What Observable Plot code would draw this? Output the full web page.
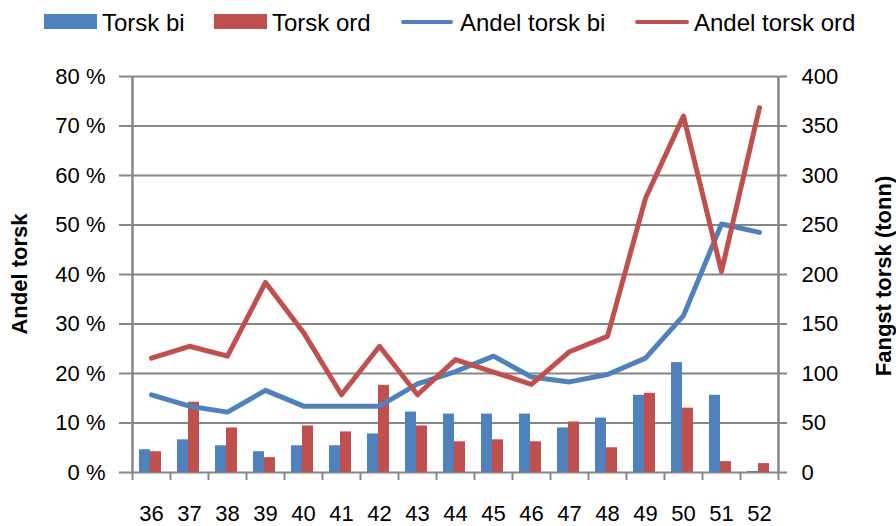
<!DOCTYPE html>
<html>
<head>
<meta charset="utf-8">
<script src="https://cdn.jsdelivr.net/npm/d3@7"></script>
<script src="https://cdn.jsdelivr.net/npm/@observablehq/plot@0.6"></script>
<style>
  body { margin: 0; background: #fff; }
  #wrap { position: relative; width: 896px; height: 526px; font-family: "Liberation Sans", Arial, sans-serif; color: #000; }
  .sw { position: absolute; }
  .lt { position: absolute; font-size: 24px; line-height: 24px; white-space: nowrap; }
  .ttl { position: absolute; font-size: 22px; font-weight: bold; line-height: 22px; white-space: nowrap; transform: translate(-50%, -50%) rotate(-90deg); }
  svg { position: absolute; left: 0; top: 0; }
</style>
</head>
<body>
<div id="wrap">
  <div class="sw" style="left:44px;top:14px;width:53px;height:15px;background:#4F81BD"></div>
  <div class="lt" style="left:102px;top:11px">Torsk bi</div>
  <div class="sw" style="left:214px;top:14px;width:53px;height:15px;background:#C0504D"></div>
  <div class="lt" style="left:272px;top:11px">Torsk ord</div>
  <div class="sw" style="left:401px;top:20px;width:52px;height:4px;background:#4F81BD;border-radius:2px"></div>
  <div class="lt" style="left:460px;top:11px">Andel torsk bi</div>
  <div class="sw" style="left:635px;top:20px;width:54px;height:4px;background:#C0504D;border-radius:2px"></div>
  <div class="lt" style="left:694px;top:11px">Andel torsk ord</div>
  <div class="ttl" style="left:20px;top:274px">Andel torsk</div>
  <div class="ttl" style="left:884px;top:276px">Fangst torsk (tonn)</div>
</div>
<script>
const weeks = [36, 37, 38, 39, 40, 41, 42, 43, 44, 45, 46, 47, 48, 49, 50, 51, 52];
const torskBi = [23, 33, 27, 21, 27, 27, 39, 61, 59, 59, 59, 45, 55, 78, 111, 78, 1];
const torskOrd = [21, 71, 45, 15, 47, 41, 88, 47, 31, 33, 31, 51, 25, 80, 65, 11, 9];
const andelBi = [15.7, 13.4, 12.2, 16.6, 13.4, 13.4, 13.4, 17.9, 20.4, 23.5, 19.3, 18.3, 19.8, 23.1, 31.7, 50.2, 48.5];
const andelOrd = [23.1, 25.5, 23.5, 38.4, 28.3, 15.7, 25.5, 15.7, 22.8, 20.3, 17.8, 24.4, 27.5, 55.4, 72.0, 40.6, 73.7];
const leftTicks = [0, 10, 20, 30, 40, 50, 60, 70, 80];
const rightTicks = [0, 50, 100, 150, 200, 250, 300, 350, 400];

const tonnPerShare = 400 / 0.8; // right axis 0–400 aligned with left 0–80 %
const rows = weeks.map((w, i) => ({
  week: w,
  bi: torskBi[i],
  ord: torskOrd[i],
  andelBi: andelBi[i] / 100,
  andelOrd: andelOrd[i] / 100
}));
const boundaries = weeks.map(w => w - 0.5).concat([weeks[weeks.length - 1] + 0.5]);
const xDomain = [boundaries[0], boundaries[boundaries.length - 1]];
const yTicks = leftTicks.map(t => t / 100);

const BLUE = "#4F81BD", RED = "#C0504D", GRAY = "#868686";

const chart = Plot.plot({
  width: 896,
  height: 526,
  marginLeft: 132,
  marginRight: 118,
  marginTop: 76,
  marginBottom: 54,
  style: { fontFamily: '"Liberation Sans", Arial, sans-serif', fontSize: "22px", color: "#000", background: "transparent" },
  x: { domain: xDomain, axis: null },
  y: { domain: [0, 0.8], axis: null },
  marks: [
    Plot.ruleY(yTicks, { stroke: GRAY, strokeWidth: 2 }),
    Plot.axisY(yTicks, { anchor: "left", tickSize: 13, tickPadding: 14, stroke: GRAY, strokeWidth: 2, fill: "#000", fontSize: 22, label: null, tickFormat: d => Math.round(d * 100) + " %" }),
    Plot.axisY(rightTicks.map(t => t / tonnPerShare), { anchor: "right", tickSize: 8, tickPadding: 15, stroke: GRAY, strokeWidth: 2, fill: "#000", fontSize: 22, label: null, tickFormat: d => String(Math.round(d * tonnPerShare)) }),
    Plot.axisX(boundaries, { anchor: "bottom", tickSize: 8, stroke: GRAY, strokeWidth: 2, tickFormat: () => "", label: null }),
    Plot.axisX(weeks, { anchor: "bottom", tickSize: 0, tickPadding: 33, fill: "#000", fontSize: 22, label: null, tickFormat: d => String(d) }),
    Plot.ruleX([xDomain[0], xDomain[1]], { stroke: GRAY, strokeWidth: 2.5 }),
    Plot.rectY(rows, { x1: d => d.week - 0.5, x2: d => d.week + 0.5, y: d => d.bi / tonnPerShare, insetLeft: 7, insetRight: 20, fill: BLUE }),
    Plot.rectY(rows, { x1: d => d.week - 0.5, x2: d => d.week + 0.5, y: d => d.ord / tonnPerShare, insetLeft: 18, insetRight: 9, fill: RED }),
    Plot.line(rows, { x: "week", y: "andelBi", stroke: BLUE, strokeWidth: 5, strokeLinejoin: "round", strokeLinecap: "round" }),
    Plot.line(rows, { x: "week", y: "andelOrd", stroke: RED, strokeWidth: 5, strokeLinejoin: "round", strokeLinecap: "round" })
  ]
});
document.getElementById("wrap").prepend(chart);
</script>
</body>
</html>
